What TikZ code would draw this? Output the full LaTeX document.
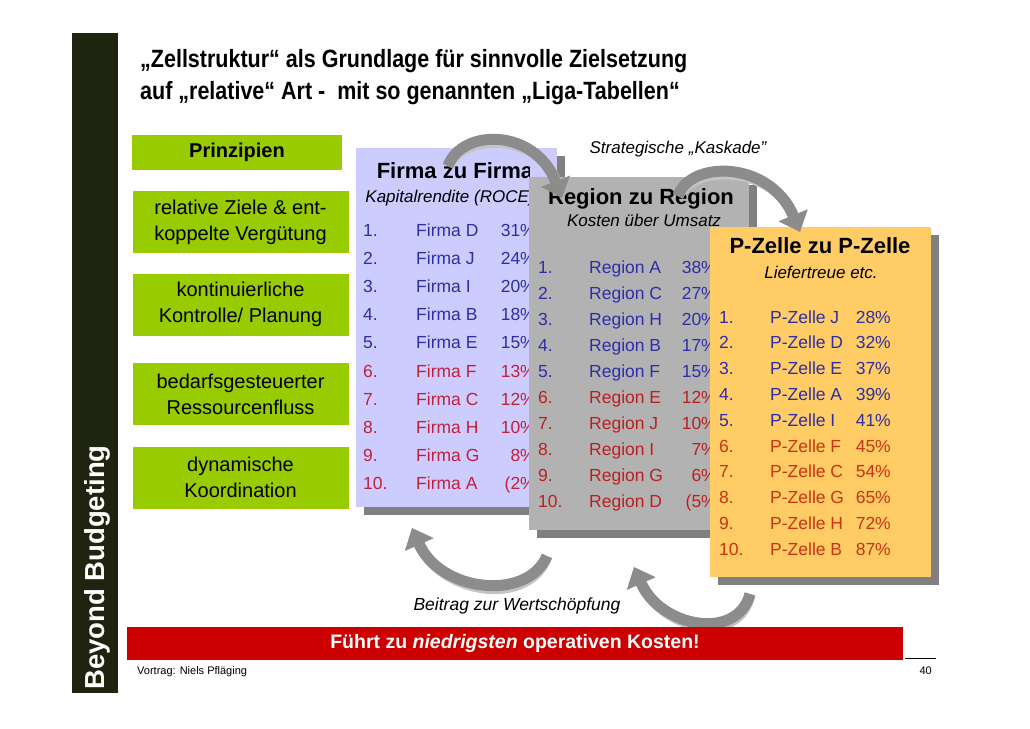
\documentclass[tikz,border=0pt]{standalone}
\usepackage{fontspec}
\setmainfont{Liberation Sans}
\newfontfamily\schmal{Liberation Sans}[FakeStretch=0.86]
\usetikzlibrary{arrows.meta,shadows}

\definecolor{bbdark}{HTML}{1E2410}
\definecolor{przgreen}{HTML}{99CC00}
\definecolor{firmafill}{HTML}{CCCCFF}
\definecolor{regionfill}{HTML}{B2B2B2}
\definecolor{zellefill}{HTML}{FFCC66}
\definecolor{schatten}{HTML}{808080}
\definecolor{ligablue}{HTML}{2E2EA6}
\definecolor{firmared}{HTML}{C0203A}
\definecolor{regionred}{HTML}{BB2020}
\definecolor{zellered}{HTML}{CC3311}
\definecolor{fazitred}{HTML}{CC0000}
\definecolor{pfeilgrau}{HTML}{8C8C8C}
\definecolor{pfeilhell}{HTML}{C4C4C4}

\begin{document}
\begin{tikzpicture}[x=1pt,y=-1pt]
        \tikzset{
            prz/.style={fill=przgreen, minimum width=216pt, align=center, inner sep=0pt,
              font=\fontsize{20}{26}\selectfont},
            panel/.style={anchor=north west, inner sep=0pt,
              drop shadow={shadow xshift=8pt, shadow yshift=-8pt, fill=schatten, opacity=1}},
            hd/.style={anchor=base, inner sep=0pt, font=\fontsize{22}{26}\selectfont\bfseries},
            sub/.style={anchor=base, inner sep=0pt, font=\fontsize{17}{20}\selectfont\itshape},
            eintrag/.style={inner sep=0pt, text=rowc, font=\fontsize{17.5}{20}\selectfont},
            pfeil/.style={line width=11pt, draw=pfeilgrau, -{Triangle[width=30pt,length=18pt]}},
            pfeilschatten/.style={pfeil, draw=pfeilhell}
            }
            \useasboundingbox (0,0) rectangle (1030,728);

            % left bar
            \fill[bbdark] (72,33) rectangle (118,693);
            \node[rotate=90, anchor=base west, inner sep=0pt, text=white,
              font=\fontsize{27.5}{30}\selectfont\bfseries] (bb) at (104,690) {Beyond Budgeting};

            % title
            \node[anchor=base west, inner sep=0pt, font=\fontsize{25}{30}\schmal\bfseries] (t1)
              at (140,67) {„Zellstruktur“ als Grundlage für sinnvolle Zielsetzung};
            \node[anchor=base west, inner sep=0pt, font=\fontsize{25}{30}\schmal\bfseries] (t2)
              at (140,99) {auf „relative“ Art -\ \ mit so genannten „Liga-Tabellen“};

            % Prinzipien
            \node[prz, minimum width=210pt, minimum height=35pt, font=\fontsize{20}{24}\selectfont\bfseries]
              (p1) at (237,152.5) {Prinzipien};
            \node[prz, minimum height=62pt] (p2) at (240.5,222) {relative Ziele \& ent-\\koppelte Vergütung};
            \node[prz, minimum height=62pt] (p3) at (240.5,304.5) {kontinuierliche\\Kontrolle/ Planung};
            \node[prz, minimum height=62pt] (p4) at (240.5,394) {bedarfsgesteuerter\\Ressourcenfluss};
            \node[prz, minimum height=62pt] (p5) at (240.5,477.5) {dynamische\\Koordination};

            % Firma zu Firma
            \node[panel, fill=firmafill, minimum width=201pt, minimum height=359pt] (firma) at (356,148) {};
            \begin{scope}
              \clip (350,140) rectangle (529,520);
              \node[hd] (firmahd) at (455,178) {Firma zu Firma};
              \node[sub] (firmasub) at (450,202) {Kapitalrendite (ROCE)};
              \foreach \nr/\nm/\val [count=\i] in {1./Firma D/31\%, 2./Firma J/24\%, 3./Firma I/20\%,
                  4./Firma B/18\%, 5./Firma E/15\%, 6./Firma F/13\%, 7./Firma C/12\%,
                  8./Firma H/10\%, 9./Firma G/8\%, 10./Firma A/(2\%}{
                \pgfmathsetmacro{\yy}{236+(\i-1)*28.2}
                \ifnum\i<6 \colorlet{rowc}{ligablue}\else\colorlet{rowc}{firmared}\fi
                \node[eintrag, anchor=base west] (fn\i) at (363,\yy) {\nr};
                \node[eintrag, anchor=base west] (fm\i) at (416,\yy) {\nm};
                \node[eintrag, anchor=base east] (fv\i) at (536,\yy) {\val};
              }
            \end{scope}

            % Region zu Region
            \node[panel, fill=regionfill, minimum width=220pt, minimum height=353pt] (region) at (529,177) {};
            \node[hd] (regionhd) at (641,204) {Region zu Region};
            \node[sub] (regionsub) at (644,226) {Kosten über Umsatz};
            \begin{scope}
              \clip (529,250) rectangle (710,520);
              \foreach \nr/\nm/\val [count=\i] in {1./Region A/38\%, 2./Region C/27\%, 3./Region H/20\%,
                  4./Region B/17\%, 5./Region F/15\%, 6./Region E/12\%, 7./Region J/10\%,
                  8./Region I/7\%, 9./Region G/6\%, 10./Region D/(5\%}{
                \pgfmathsetmacro{\yy}{273+(\i-1)*26}
                \ifnum\i<6 \colorlet{rowc}{ligablue}\else\colorlet{rowc}{regionred}\fi
                \node[eintrag, anchor=base west] (rn\i) at (538,\yy) {\nr};
                \node[eintrag, anchor=base west] (rm\i) at (589,\yy) {\nm};
                \node[eintrag, anchor=base east] (rv\i) at (717,\yy) {\val};
              }
            \end{scope}

            % P-Zelle zu P-Zelle
            \node[panel, fill=zellefill, minimum width=221pt, minimum height=350pt] (zelle) at (710,227) {};
            \node[hd] (zellehd) at (820,253) {P-Zelle zu P-Zelle};
            \node[sub] (zellesub) at (821,278) {Liefertreue etc.};
            \foreach \nr/\nm/\val [count=\i] in {1./P-Zelle J/28\%, 2./P-Zelle D/32\%, 3./P-Zelle E/37\%,
                4./P-Zelle A/39\%, 5./P-Zelle I/41\%, 6./P-Zelle F/45\%, 7./P-Zelle C/54\%,
                8./P-Zelle G/65\%, 9./P-Zelle H/72\%, 10./P-Zelle B/87\%}{
              \pgfmathsetmacro{\yy}{323+(\i-1)*25.8}
              \ifnum\i<6 \colorlet{rowc}{ligablue}\else\colorlet{rowc}{zellered}\fi
              \node[eintrag, anchor=base west] (zn\i) at (719,\yy) {\nr};
              \node[eintrag, anchor=base west] (zm\i) at (770,\yy) {\nm};
              \node[eintrag, anchor=base east] (zv\i) at (891,\yy) {\val};
            }

            % arrows
            \coordinate (k1a) at (448,166);
            \coordinate (k1b) at (562,198);
            \coordinate (k2a) at (678,196);
            \coordinate (k2b) at (800,232);
            \coordinate (w1a) at (547,556);
            \coordinate (w1b) at (412,528);
            \coordinate (w2a) at (750,594);
            \coordinate (w2b) at (634,567);
            \draw[pfeilschatten, shift={(3,4)}] (k1a) .. controls (462,128) and (535,128) .. (k1b);
            \draw[pfeil] (k1a) .. controls (462,128) and (535,128) .. (k1b);
            \draw[pfeilschatten, shift={(3,4)}] (k2a) .. controls (690,160) and (770,160) .. (k2b);
            \draw[pfeil] (k2a) .. controls (690,160) and (770,160) .. (k2b);
            \draw[pfeilschatten, shift={(3,4)}] (w1a) .. controls (527,602) and (440,592) .. (w1b);
            \draw[pfeil] (w1a) .. controls (527,602) and (440,592) .. (w1b);
            \draw[pfeilschatten, shift={(3,4)}] (w2a) .. controls (737,642) and (660,627) .. (w2b);
            \draw[pfeil] (w2a) .. controls (737,642) and (660,627) .. (w2b);

            \node[sub] (kaskade) at (678,153) {Strategische „Kaskade”};
            \node[sub, font=\fontsize{17.5}{20}\selectfont\itshape] (beitrag) at (517,610) {Beitrag zur Wertschöpfung};

            % bottom
            \node[fill=fazitred, minimum width=776pt, minimum height=33pt, inner sep=0pt, text=white,
              font=\fontsize{19.5}{24}\selectfont\bfseries] (fazit) at (515,643.5)
              {Führt zu \textit{niedrigsten} operativen Kosten!};
            \node[anchor=base west, inner sep=0pt, font=\fontsize{11}{13}\selectfont] (vortrag)
              at (137,674) {Vortrag: Niels Pfläging};
            \node[anchor=base east, inner sep=0pt, font=\fontsize{11}{13}\selectfont] (seite)
              at (932,674) {40};
            \coordinate (la) at (905,658);
            \coordinate (lb) at (936,658);
            \draw[line width=0.8pt] (la) -- (lb);
        \end{tikzpicture}
\end{document}
